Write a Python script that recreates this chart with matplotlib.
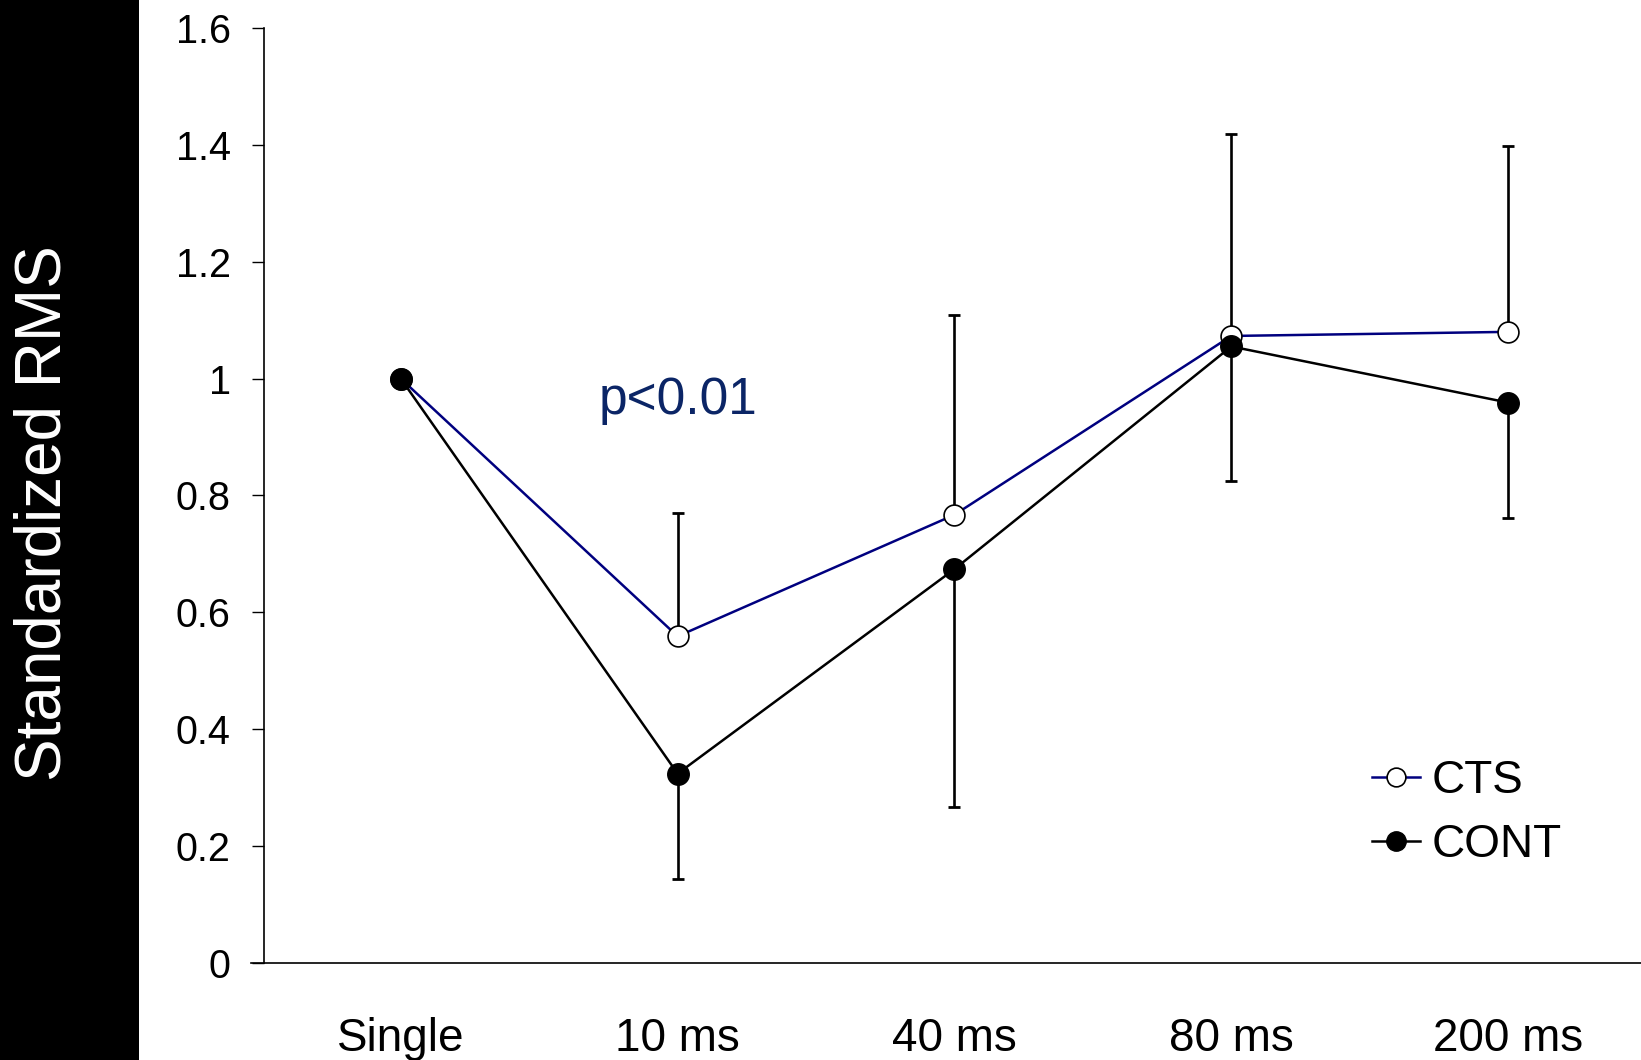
import matplotlib
matplotlib.use("Agg")
from matplotlib import pyplot as plt
from matplotlib.patches import Rectangle
import numpy as np

plt.rcParams['font.family'] = ['Liberation Sans', 'DejaVu Sans']

# conditions and group means
conditions = ["Single", "10 ms", "40 ms", "80 ms", "200 ms"]
cts_mean = [1.0, 0.559, 0.767, 1.073, 1.080]
cont_mean = [1.0, 0.324, 0.674, 1.055, 0.959]
# one-sided error bars (CTS up, CONT down), none for Single
cts_err_up = [0.0, 0.211, 0.342, 0.346, 0.318]
cont_err_down = [0.0, 0.181, 0.407, 0.231, 0.198]
yticks = [0, 0.2, 0.4, 0.6, 0.8, 1, 1.2, 1.4, 1.6]
ytick_labels = ["0", "0.2", "0.4", "0.6", "0.8", "1", "1.2", "1.4", "1.6"]

fig = plt.figure(figsize=(16.41, 10.60), dpi=100)
fig.patches.append(Rectangle((0, 0), 0.0847, 1, transform=fig.transFigure,
                             facecolor='black', edgecolor='none', zorder=0))
fig.text(0.0265, 0.516, "Standardized RMS", color='white', fontsize=46,
         rotation=90, ha='center', va='center')

ax = fig.add_axes([0.1609, 0.0915, 0.8391, 0.8821])
x = np.arange(1, len(conditions) + 1)

# error bars first so markers sit on top
ax.errorbar(x[1:], cts_mean[1:], yerr=[np.zeros(4), cts_err_up[1:]], fmt='none',
            ecolor='black', elinewidth=1.9, capsize=4.5, capthick=2.0, zorder=2)
ax.errorbar(x[1:], cont_mean[1:], yerr=[cont_err_down[1:], np.zeros(4)], fmt='none',
            ecolor='black', elinewidth=1.9, capsize=4.5, capthick=2.0, zorder=2)

ax.plot(x, cts_mean, color='#00007f', lw=1.8, marker='o', ms=15,
        mfc='white', mec='black', mew=1.2, label='CTS', zorder=3)
ax.plot(x, cont_mean, color='black', lw=1.8, marker='o', ms=15.5,
        mfc='black', mec='black', label='CONT', zorder=4)

ax.text(2, 0.94, "p<0.01", color='#0b2566', fontsize=37, ha='center', va='baseline')

ax.set_xlim(0.506, 5.48)
ax.set_ylim(0, 1.6)
ax.set_xticks(x)
ax.set_xticklabels(conditions, fontsize=33)
ax.set_yticks(yticks)
ax.set_yticklabels(ytick_labels, fontsize=28.5)
ax.tick_params(axis='x', length=0, pad=39)
ax.tick_params(axis='y', direction='out', length=9, width=1.0, pad=15)

for side in ['top', 'right']:
    ax.spines[side].set_visible(False)
for side in ['left', 'bottom']:
    ax.spines[side].set_linewidth(1.2)
ax.spines['bottom'].set_bounds(0.46, 5.48)
ax.spines['bottom'].set_clip_on(False)

leg = ax.legend(loc='center left', bbox_to_anchor=(0.836, 0.233),
                bbox_transform=fig.transFigure, frameon=False, fontsize=33,
                handlelength=1.05, handletextpad=0.25, labelspacing=0.45,
                borderpad=0, borderaxespad=0, markerscale=0.9)

fig.savefig("out.png", dpi=100)
